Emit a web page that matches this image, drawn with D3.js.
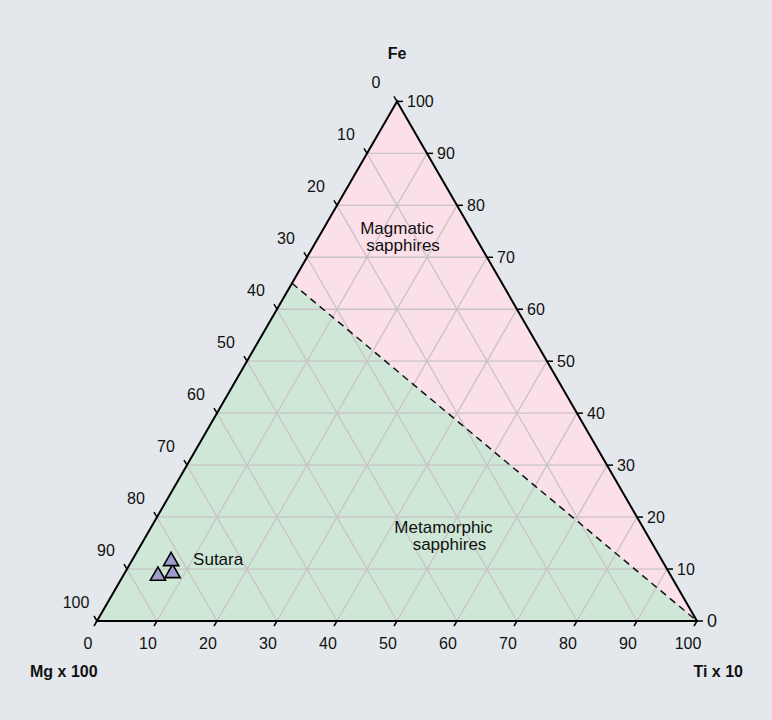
<!DOCTYPE html>
<html><head><meta charset="utf-8">
<script src="https://cdn.jsdelivr.net/npm/d3@7"></script>
<style>body{margin:0;background:#e4e8ec;}svg{display:block;font-family:"Liberation Sans",Arial,sans-serif;}</style>
</head><body>
<svg id="chart" width="772" height="720"></svg>
<script>
// ternary: fe = top, mg = bottom-left, ti = bottom-right (percent)
const ticks = [0, 10, 20, 30, 40, 50, 60, 70, 80, 90, 100];
const boundary = [{fe: 65, mg: 35, ti: 0}, {fe: 0, mg: 0, ti: 100}];
const samples = [
  {fe: 8.7, mg: 85.5, ti: 5.8},
  {fe: 9.2, mg: 82.8, ti: 8.0},
  {fe: 11.5, mg: 81.9, ti: 6.6}
];
const regionLabels = [
  {name: ["Magmatic", "sapphires"], fe: 74, mg: 13},
  {name: ["Metamorphic", "sapphires"], fe: 16.5, mg: 34},
];

const svg = d3.select("#chart");
const side = 600, h = side * Math.sqrt(3) / 2;
const x0 = 97, yb = 621;
const sx = d3.scaleLinear().domain([0, 100]).range([0, side]);
const sy = d3.scaleLinear().domain([0, 100]).range([yb, yb - h]);
const px = d => [x0 + sx(d.ti) + sx(d.fe) / 2, sy(d.fe)];
const pt = (fe, mg, ti) => px({fe, mg, ti});

const A = pt(100, 0, 0), B = pt(0, 100, 0), C = pt(0, 0, 100);
const line = d3.line();

// regions
const L = px(boundary[0]);
svg.append("path").attr("d", line([A, L, C]) + "Z").attr("fill", "#fbdfe9");
svg.append("path").attr("d", line([L, B, C]) + "Z").attr("fill", "#cfe7d6");

// grid
const grid = svg.append("g").attr("stroke", "#c8c3c6").attr("stroke-width", 1.3);
ticks.slice(1, -1).forEach(v => {
  grid.append("path").attr("d", line([pt(v, 100 - v, 0), pt(v, 0, 100 - v)]));
  grid.append("path").attr("d", line([pt(0, v, 100 - v), pt(100 - v, v, 0)]));
  grid.append("path").attr("d", line([pt(0, 100 - v, v), pt(100 - v, 0, v)]));
});

// boundary
svg.append("path").attr("d", line(boundary.map(px)))
  .attr("stroke", "#111").attr("stroke-width", 1.5).attr("stroke-dasharray", "7,5").attr("fill", "none");

// frame
svg.append("path").attr("d", line([A, B, C]) + "Z").attr("fill", "none").attr("stroke", "#000").attr("stroke-width", 2);

const tg = svg.append("g").attr("stroke", "#000").attr("stroke-width", 1.5);
const lab = svg.append("g").attr("font-size", 16).attr("fill", "#111");
ticks.forEach(v => {
  // bottom (Ti)
  let p = pt(0, 100 - v, v);
  tg.append("line").attr("x1", p[0]).attr("y1", p[1]).attr("x2", p[0] - 3).attr("y2", p[1] + 5);
  lab.append("text").attr("x", p[0] - 9).attr("y", p[1] + 28).attr("text-anchor", "middle").text(v);
  // left (Mg)
  p = pt(100 - v, v, 0);
  tg.append("line").attr("x1", p[0]).attr("y1", p[1]).attr("x2", p[0] - 3).attr("y2", p[1] - 5);
  lab.append("text").attr("x", p[0] - 21).attr("y", p[1] - 13).attr("text-anchor", "middle").text(v);
  // right (Fe)
  p = pt(v, 0, 100 - v);
  tg.append("line").attr("x1", p[0]).attr("y1", p[1]).attr("x2", p[0] + 6).attr("y2", p[1]);
  lab.append("text").attr("x", p[0] + 10).attr("y", p[1] + 6).attr("font-size", v === 0 ? 18 : 16).text(v);
});

const titles = svg.append("g").attr("font-size", 16).attr("font-weight", "bold").attr("fill", "#111");
titles.append("text").attr("x", A[0]).attr("y", 59).attr("text-anchor", "middle").text("Fe");
titles.append("text").attr("x", 30).attr("y", 677).text("Mg x 100");
titles.append("text").attr("x", 743).attr("y", 677).attr("text-anchor", "end").text("Ti x 10");

// region labels
regionLabels.forEach(r => {
  const p = pt(r.fe, r.mg, 100 - r.fe - r.mg);
  r.name.forEach((s, i) => svg.append("text").attr("font-size", 17).attr("fill", "#111")
    .attr("text-anchor", "middle").attr("x", p[0] + (i ? 6 : 0)).attr("y", p[1] - 2 + i * 17).text(s));
});

// samples
svg.append("g").selectAll("path").data(samples).join("path")
  .attr("transform", d => `translate(${px(d)})`)
  .attr("d", d3.symbol(d3.symbolTriangle, 100))
  .attr("fill", "#9d9ccb").attr("stroke", "#000").attr("stroke-width", 1.6);
const s0 = px(samples[2]);
svg.append("text").attr("x", s0[0] + 22).attr("y", s0[1] + 4).attr("font-size", 17).attr("fill", "#111").text("Sutara");
</script>
</body></html>
